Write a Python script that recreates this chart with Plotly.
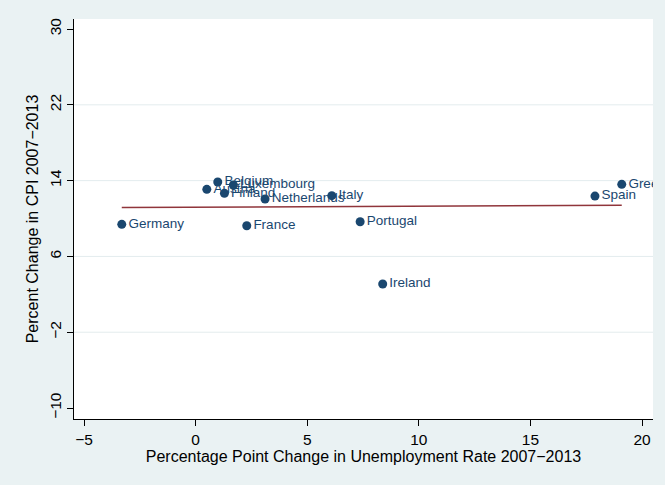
import numpy as np
import plotly.graph_objects as go

# Euro-area countries: change in unemployment vs. change in CPI, 2007-2013
countries = ["Germany", "Austria", "Belgium", "Luxembourg", "Finland", "Netherlands",
             "Italy", "France", "Portugal", "Ireland", "Spain", "Greece"]
unemp_change = [-3.31, 0.50, 0.99, 1.69, 1.29, 3.11, 6.10, 2.29, 7.37, 8.38, 17.89, 19.09]
cpi_change = [9.39, 13.08, 13.85, 13.54, 12.66, 12.06, 12.41, 9.24, 9.66, 3.09, 12.37, 13.61]

x_ticks = [-5, 0, 5, 10, 15, 20]
y_ticks = [-10, -2, 6, 14, 22, 30]
y_grid = [-2, 6, 14, 22]


def minus(v):
    return str(v).replace("-", "\u2212")


# Linear fit across the observed range
slope, intercept = np.polyfit(unemp_change, cpi_change, 1)
fit_x = np.array([min(unemp_change), max(unemp_change)])
fit_y = slope * fit_x + intercept

navy = "#1a476f"
maroon = "#90353b"
font = "Liberation Sans, Arial, sans-serif"

fig = go.Figure()
fig.add_trace(go.Scatter(
    x=unemp_change, y=cpi_change, text=countries,
    mode="markers+text", textposition="middle right",
    marker=dict(color=navy, size=9),
    textfont=dict(color=navy, size=13.5, family=font),
    cliponaxis=True, showlegend=False,
))
fig.add_trace(go.Scatter(
    x=fit_x, y=fit_y, mode="lines",
    line=dict(color=maroon, width=1.5), showlegend=False,
))

for g in y_grid:
    fig.add_shape(type="line", xref="paper", x0=0, x1=1, y0=g, y1=g, yref="y",
                  line=dict(color="#e3ecee", width=1), layer="below")

fig.update_layout(
    width=665, height=485,
    margin=dict(l=74, r=12, t=19, b=66),
    paper_bgcolor="#eaf2f3", plot_bgcolor="white",
    font=dict(family=font, size=15, color="black"),
    xaxis=dict(
        range=[-5.45, 20.49], tickvals=x_ticks, ticktext=[minus(v) for v in x_ticks],
        showgrid=False, zeroline=False, showline=True, linecolor="black", linewidth=1,
        ticks="outside", ticklen=6, tickcolor="black",
        title=dict(text="Percentage Point Change in Unemployment Rate 2007\u22122013",
                   standoff=1, font=dict(size=16)),
        tickfont=dict(size=15.5),
    ),
    yaxis=dict(
        range=[-11.16, 31.06], tickvals=y_ticks, ticktext=[minus(v) for v in y_ticks],
        tickangle=-90,
        showgrid=False, zeroline=False, showline=True, linecolor="black", linewidth=1,
        ticks="outside", ticklen=6, tickcolor="black",
        title=dict(text="Percent Change in CPI 2007\u22122013", standoff=4, font=dict(size=16)),
        tickfont=dict(size=15.5),
    ),
)

fig.write_html("out.html")
